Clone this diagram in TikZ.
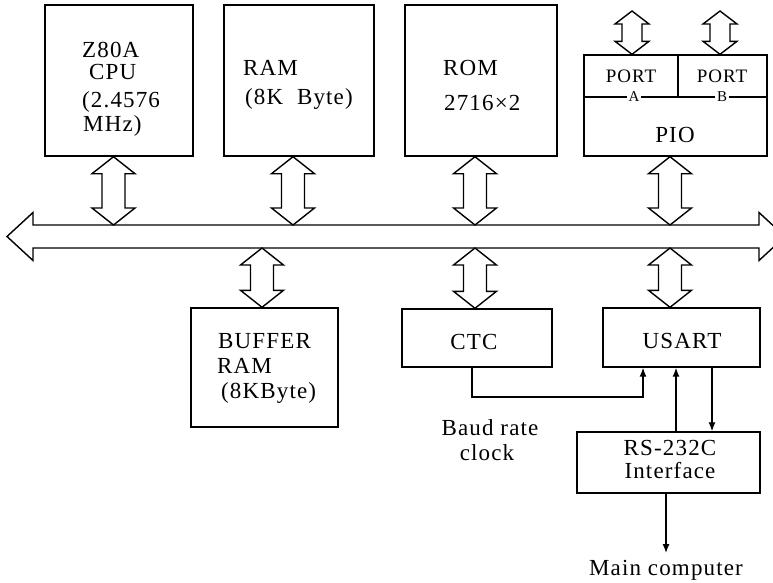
\documentclass[tikz,border=0pt]{standalone}
\usepackage{fontspec}
\setmainfont{Liberation Serif}[LetterSpace=5]
\usetikzlibrary{arrows.meta,calc}
\newcommand\fatv[5]{%
  \draw[fatline] let \p1=#1, \p2=#2 in
   (\x1,\y1) -- (\x1+#3,\y1-#5) -- (\x1+#4,\y1-#5) -- (\x1+#4,\y2+#5) -- (\x1+#3,\y2+#5)
   -- (\x1,\y2) -- (\x1-#3,\y2+#5) -- (\x1-#4,\y2+#5) -- (\x1-#4,\y1-#5) -- (\x1-#3,\y1-#5) -- cycle;}
\tikzset{
  box/.style={draw, line width=1.4pt, rectangle, inner sep=0pt},
  fatline/.style={draw, line width=1.4pt, line join=miter, fill=white},
  thinarrow/.style={line width=1.3pt, -{Latex[length=9pt,width=7pt]}},
  lbl/.style={inner sep=0pt, font=\fontsize{23}{26}\selectfont},
  plbl/.style={inner sep=0pt, font=\fontsize{19}{21}\selectfont},
  ablbl/.style={inner sep=2pt, fill=white, font=\fontsize{15}{16}\selectfont}
}
\begin{document}
\begin{tikzpicture}[x=1pt,y=-1pt]
\useasboundingbox (0,0) rectangle (773,582);
% boxes
\node[box, minimum width=148pt, minimum height=151pt] (cpu) at (119,80.5) {};
\node[box, minimum width=150pt, minimum height=151pt] (ram) at (299,80.5) {};
\node[box, minimum width=152pt, minimum height=151pt] (rom) at (481,80.5) {};
\node[box, minimum width=183pt, minimum height=101pt] (pio) at (675.5,105.5) {};
\node[box, minimum width=147pt, minimum height=119pt] (buf) at (264.5,367.5) {};
\node[box, minimum width=150pt, minimum height=58pt] (ctc) at (477,338) {};
\node[box, minimum width=157pt, minimum height=59pt] (usart) at (681.5,337.5) {};
\node[box, minimum width=183pt, minimum height=61pt] (rs) at (668.5,462.5) {};
% PIO inner lines
\coordinate (pioMidL) at (584,97);
\coordinate (pioMidR) at (767,97);
\coordinate (pioDiv) at (678,97);
\draw[line width=1.3pt] (pioMidL) -- (pioMidR);
\draw[line width=1.3pt] (pioDiv) -- (pio.north -| pioDiv);
% texts
\node[lbl, anchor=base west] (t1) at (82,57) {Z80A};
\node[lbl, anchor=base west] (t2) at (89,79) {CPU};
\node[lbl, anchor=base west] (t3) at (82,107) {(2.4576};
\node[lbl, anchor=base west] (t4) at (83,131) {MHz)};
\node[lbl, anchor=base west] (t5) at (243,75) {RAM};
\node[lbl, anchor=base west] (t6) at (245,104) {(8K\ \ Byte)};
\node[lbl, anchor=base west] (t7) at (443,75) {ROM};
\node[lbl, anchor=base west] (t8) at (444,110) {2716×2};
\node[plbl, anchor=base] (t9) at (631,82) {PORT};
\node[plbl, anchor=base] (t10) at (722,82) {PORT};
\node[ablbl] (t11) at (634,97) {A};
\node[ablbl] (t12) at (722,97) {B};
\node[lbl, anchor=base] (t13) at (675,142) {PIO};
\node[lbl, anchor=base west] (t14) at (218,348) {BUFFER};
\node[lbl, anchor=base west] (t15) at (217,373) {RAM};
\node[lbl, anchor=base west] (t16) at (221,398) {(8KByte)};
\node[lbl, anchor=base] (t17) at (474,349) {CTC};
\node[lbl, anchor=base] (t18) at (682,348) {USART};
\node[lbl, anchor=base] (t19) at (670,455) {RS-232C};
\node[lbl, anchor=base] (t20) at (670,478) {Interface};
\node[lbl, anchor=base] (t21) at (490,435) {Baud rate};
\node[lbl, anchor=base] (t22) at (487,460) {clock};
\node[lbl, anchor=base] (main) at (666,575) {Main computer};
% bus
\coordinate (busL) at (7,236.5);
\coordinate (busR) at (785,236.5);
\coordinate (bustop) at (0,225);
\coordinate (busbot) at (0,248);
\draw[fatline] let \p1=(busL), \p2=(busR) in
  (\x1,\y1) -- (\x1+26pt,\y1+24pt) -- (\x1+26pt,\y1+11.5pt) -- (\x2-26pt,\y1+11.5pt)
  -- (\x2-26pt,\y1+24pt) -- (\x2,\y2) -- (\x2-26pt,\y1-24pt) -- (\x2-26pt,\y1-11.5pt)
  -- (\x1+26pt,\y1-11.5pt) -- (\x1+26pt,\y1-24pt) -- cycle;
% arrow columns
\coordinate (xCPU) at (113.5,0);
\coordinate (xRAM) at (293,0);
\coordinate (xROM) at (475,0);
\coordinate (xPIO) at (670,0);
\coordinate (xBUF) at (262,0);
\coordinate (xPA) at (632,0);
\coordinate (xPB) at (720,0);
\coordinate (portTop) at (0,11);
\fatv{(cpu.south -| xCPU)}{(bustop -| xCPU)}{21.5pt}{11.5pt}{17pt}
\fatv{(ram.south -| xRAM)}{(bustop -| xRAM)}{21.5pt}{11.5pt}{17pt}
\fatv{(rom.south -| xROM)}{(bustop -| xROM)}{21.5pt}{11.5pt}{17pt}
\fatv{(pio.south -| xPIO)}{(bustop -| xPIO)}{21.5pt}{11.5pt}{17pt}
\fatv{(busbot -| xBUF)}{(buf.north -| xBUF)}{21.5pt}{11.5pt}{17pt}
\fatv{(busbot -| xROM)}{(ctc.north -| xROM)}{21.5pt}{11.5pt}{17pt}
\fatv{(busbot -| xPIO)}{(usart.north -| xPIO)}{21.5pt}{11.5pt}{17pt}
\fatv{(portTop -| xPA)}{(pio.north -| xPA)}{17pt}{10pt}{13pt}
\fatv{(portTop -| xPB)}{(pio.north -| xPB)}{17pt}{10pt}{13pt}
% thin connectors
\coordinate (xClk) at (472,0);
\coordinate (xClkIn) at (643,0);
\coordinate (clkY) at (0,397);
\coordinate (xUp) at (676,0);
\coordinate (xDn) at (712,0);
\coordinate (mainTip) at (666,553);
\draw[thinarrow] (ctc.south -| xClk) -- (clkY -| xClk) -- (clkY -| xClkIn) -- (usart.south -| xClkIn);
\draw[thinarrow] (rs.north -| xUp) -- (usart.south -| xUp);
\draw[thinarrow] (usart.south -| xDn) -- (rs.north -| xDn);
\draw[thinarrow] (rs.south -| mainTip) -- (mainTip);
\end{tikzpicture}
\end{document}
